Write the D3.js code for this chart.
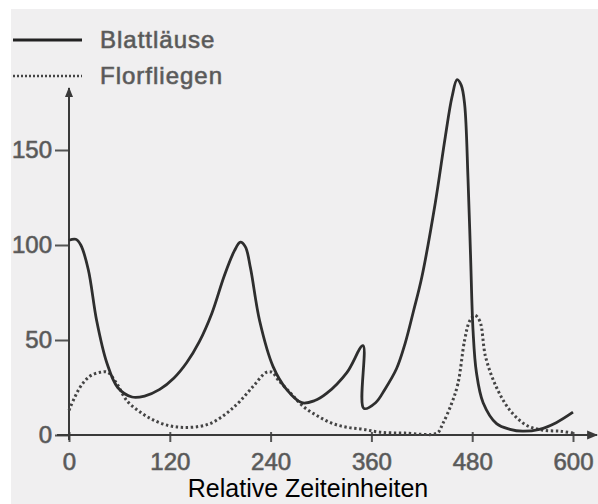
<!DOCTYPE html>
<html>
<head>
<meta charset="utf-8">
<script src="https://cdn.jsdelivr.net/npm/d3@7"></script>
<style>
  body { margin: 0; background: #fff; }
  svg { display: block; }
  .tick text { font-family: "Liberation Sans", Arial, sans-serif; font-size: 24px; fill: #555; stroke: #666; stroke-width: 0.7px; }
  .legendText { font-family: "Liberation Sans", Arial, sans-serif; font-size: 24px; fill: #555; stroke: #666; stroke-width: 0.7px; letter-spacing: 1px; }
  .xTitle { font-family: "Liberation Sans", Arial, sans-serif; font-size: 25px; fill: #000; }
</style>
</head>
<body>
<script>
//data
var series = ["Blattläuse", "Florfliegen"];
var xTicks = [0, 120, 240, 360, 480, 600];
var yTicks = [0, 50, 100, 150];
var xTitle = "Relative Zeiteinheiten";

var blattT = [0, 8, 14, 23, 33, 45, 58, 75, 90, 108, 125, 140, 155, 170, 185, 197, 204, 210, 216, 227, 243, 259, 277, 292, 307, 331, 350, 351, 365, 376, 390, 400, 410, 420, 436, 448, 456, 462, 467, 471, 475, 478, 481, 485, 493, 509, 525, 540, 560, 580, 600];
var blattV = [102.5, 103, 100, 87, 60, 38, 25, 20, 20.5, 24, 30, 38, 49, 64, 84, 97, 101.5, 99, 88, 60, 36, 24, 17, 18, 22, 33, 47, 14, 17, 24, 35, 48, 65, 83, 122, 157, 178, 187, 184, 174, 135, 95, 55, 33, 17, 6, 3, 2, 3, 6.5, 12];

var florT = [0, 13, 25, 37, 46, 57, 69, 85, 100, 118, 136, 155, 168, 180, 192, 204, 220, 235, 242, 249, 264, 279, 296, 314, 332, 350, 370, 400, 438, 445, 455, 463, 471, 477, 483, 489, 496, 509, 525, 545, 565, 585, 600];
var florV = [13, 25, 31, 33, 33, 27, 18, 12, 8, 5, 4, 4.5, 6, 9, 13, 18, 26, 33, 33, 29, 22, 15, 10, 6, 4, 3, 1.5, 1, 1, 6, 16, 27, 50, 60, 63, 60, 41, 25, 13, 5, 2.5, 2, 1];

var W = 598, H = 504;
var x0 = 69, x600 = 573, y0 = 435, y150 = 150;

var x = d3.scaleLinear().domain([0, 600]).range([x0, x600]);
var y = d3.scaleLinear().domain([0, 150]).range([y0, y150]);

var svg = d3.select("body").append("svg")
    .attr("width", W)
    .attr("height", H);

// scanned paper background
svg.append("rect").attr("width", W).attr("height", H).attr("fill", "#ffffff");
svg.append("rect")
    .attr("x", 11).attr("y", 9)
    .attr("width", W - 11).attr("height", H - 9)
    .attr("fill", "#f0eff0");

var defs = svg.append("defs");
defs.append("marker")
    .attr("id", "arrow")
    .attr("viewBox", "0 0 10 10")
    .attr("refX", 9).attr("refY", 5)
    .attr("markerWidth", 5).attr("markerHeight", 5)
    .attr("orient", "auto")
    .append("path")
    .attr("d", "M0,1 L10,5 L0,9 Z")
    .attr("fill", "#3a3a3a");

//axes
var yAxis = d3.axisLeft(y)
    .tickValues(yTicks)
    .tickSize(14)
    .tickPadding(3);
var yg = svg.append("g")
    .attr("transform", "translate(" + x0 + ",0)")
    .call(yAxis);
yg.select(".domain").remove();
yg.selectAll(".tick line").attr("stroke", "#555").attr("stroke-width", 2);

var xAxis = d3.axisBottom(x)
    .tickValues(xTicks)
    .tickSize(7)
    .tickPadding(6);
var xg = svg.append("g")
    .attr("transform", "translate(0," + y0 + ")")
    .call(xAxis);
xg.select(".domain").remove();
xg.selectAll(".tick line").attr("stroke", "#555").attr("stroke-width", 2).attr("y1", -3);
xg.selectAll(".tick text").attr("dy", "0.9em");

svg.append("line")
    .attr("x1", x0 - 12).attr("y1", y0)
    .attr("x2", 597).attr("y2", y0)
    .attr("stroke", "#3a3a3a").attr("stroke-width", 2.2)
    .attr("marker-end", "url(#arrow)");
svg.append("line")
    .attr("x1", x0).attr("y1", y0 + 5)
    .attr("x2", x0).attr("y2", 88)
    .attr("stroke", "#3a3a3a").attr("stroke-width", 2)
    .attr("marker-end", "url(#arrow)");

//lines
var line = d3.line()
    .x(function (d) { return x(d[0]); })
    .y(function (d) { return y(d[1]); })
    .curve(d3.curveCatmullRom.alpha(0.5));

var blatt = blattT.map(function (t, i) { return [t, blattV[i]]; });
var flor = florT.map(function (t, i) { return [t, florV[i]]; });

svg.append("path")
    .datum(flor)
    .attr("d", line)
    .attr("fill", "none")
    .attr("stroke", "#444")
    .attr("stroke-width", 3)
    .attr("stroke-dasharray", "2.4,2.6");

svg.append("path")
    .datum(blatt)
    .attr("d", line)
    .attr("fill", "none")
    .attr("stroke", "#2e2e2e")
    .attr("stroke-width", 2.8)
    .attr("stroke-linejoin", "round");

//legend
var legend = svg.append("g");
legend.selectAll("line")
    .data(series)
    .enter().append("line")
    .attr("x1", 13).attr("x2", 82)
    .attr("y1", function (d, i) { return 40 + i * 36; })
    .attr("y2", function (d, i) { return 40 + i * 36; })
    .attr("stroke", function (d, i) { return i ? "#444" : "#222"; })
    .attr("stroke-width", function (d, i) { return i ? 2.4 : 3.2; })
    .attr("stroke-dasharray", function (d, i) { return i ? "2,2" : null; });
legend.selectAll("text")
    .data(series)
    .enter().append("text")
    .attr("class", "legendText")
    .attr("x", 100)
    .attr("y", function (d, i) { return 40 + i * 36; })
    .attr("dy", "0.35em")
    .text(function (d) { return d; });

svg.append("text")
    .attr("class", "xTitle")
    .attr("x", 308)
    .attr("y", 497)
    .attr("text-anchor", "middle")
    .text(xTitle);
</script>
</body>
</html>
